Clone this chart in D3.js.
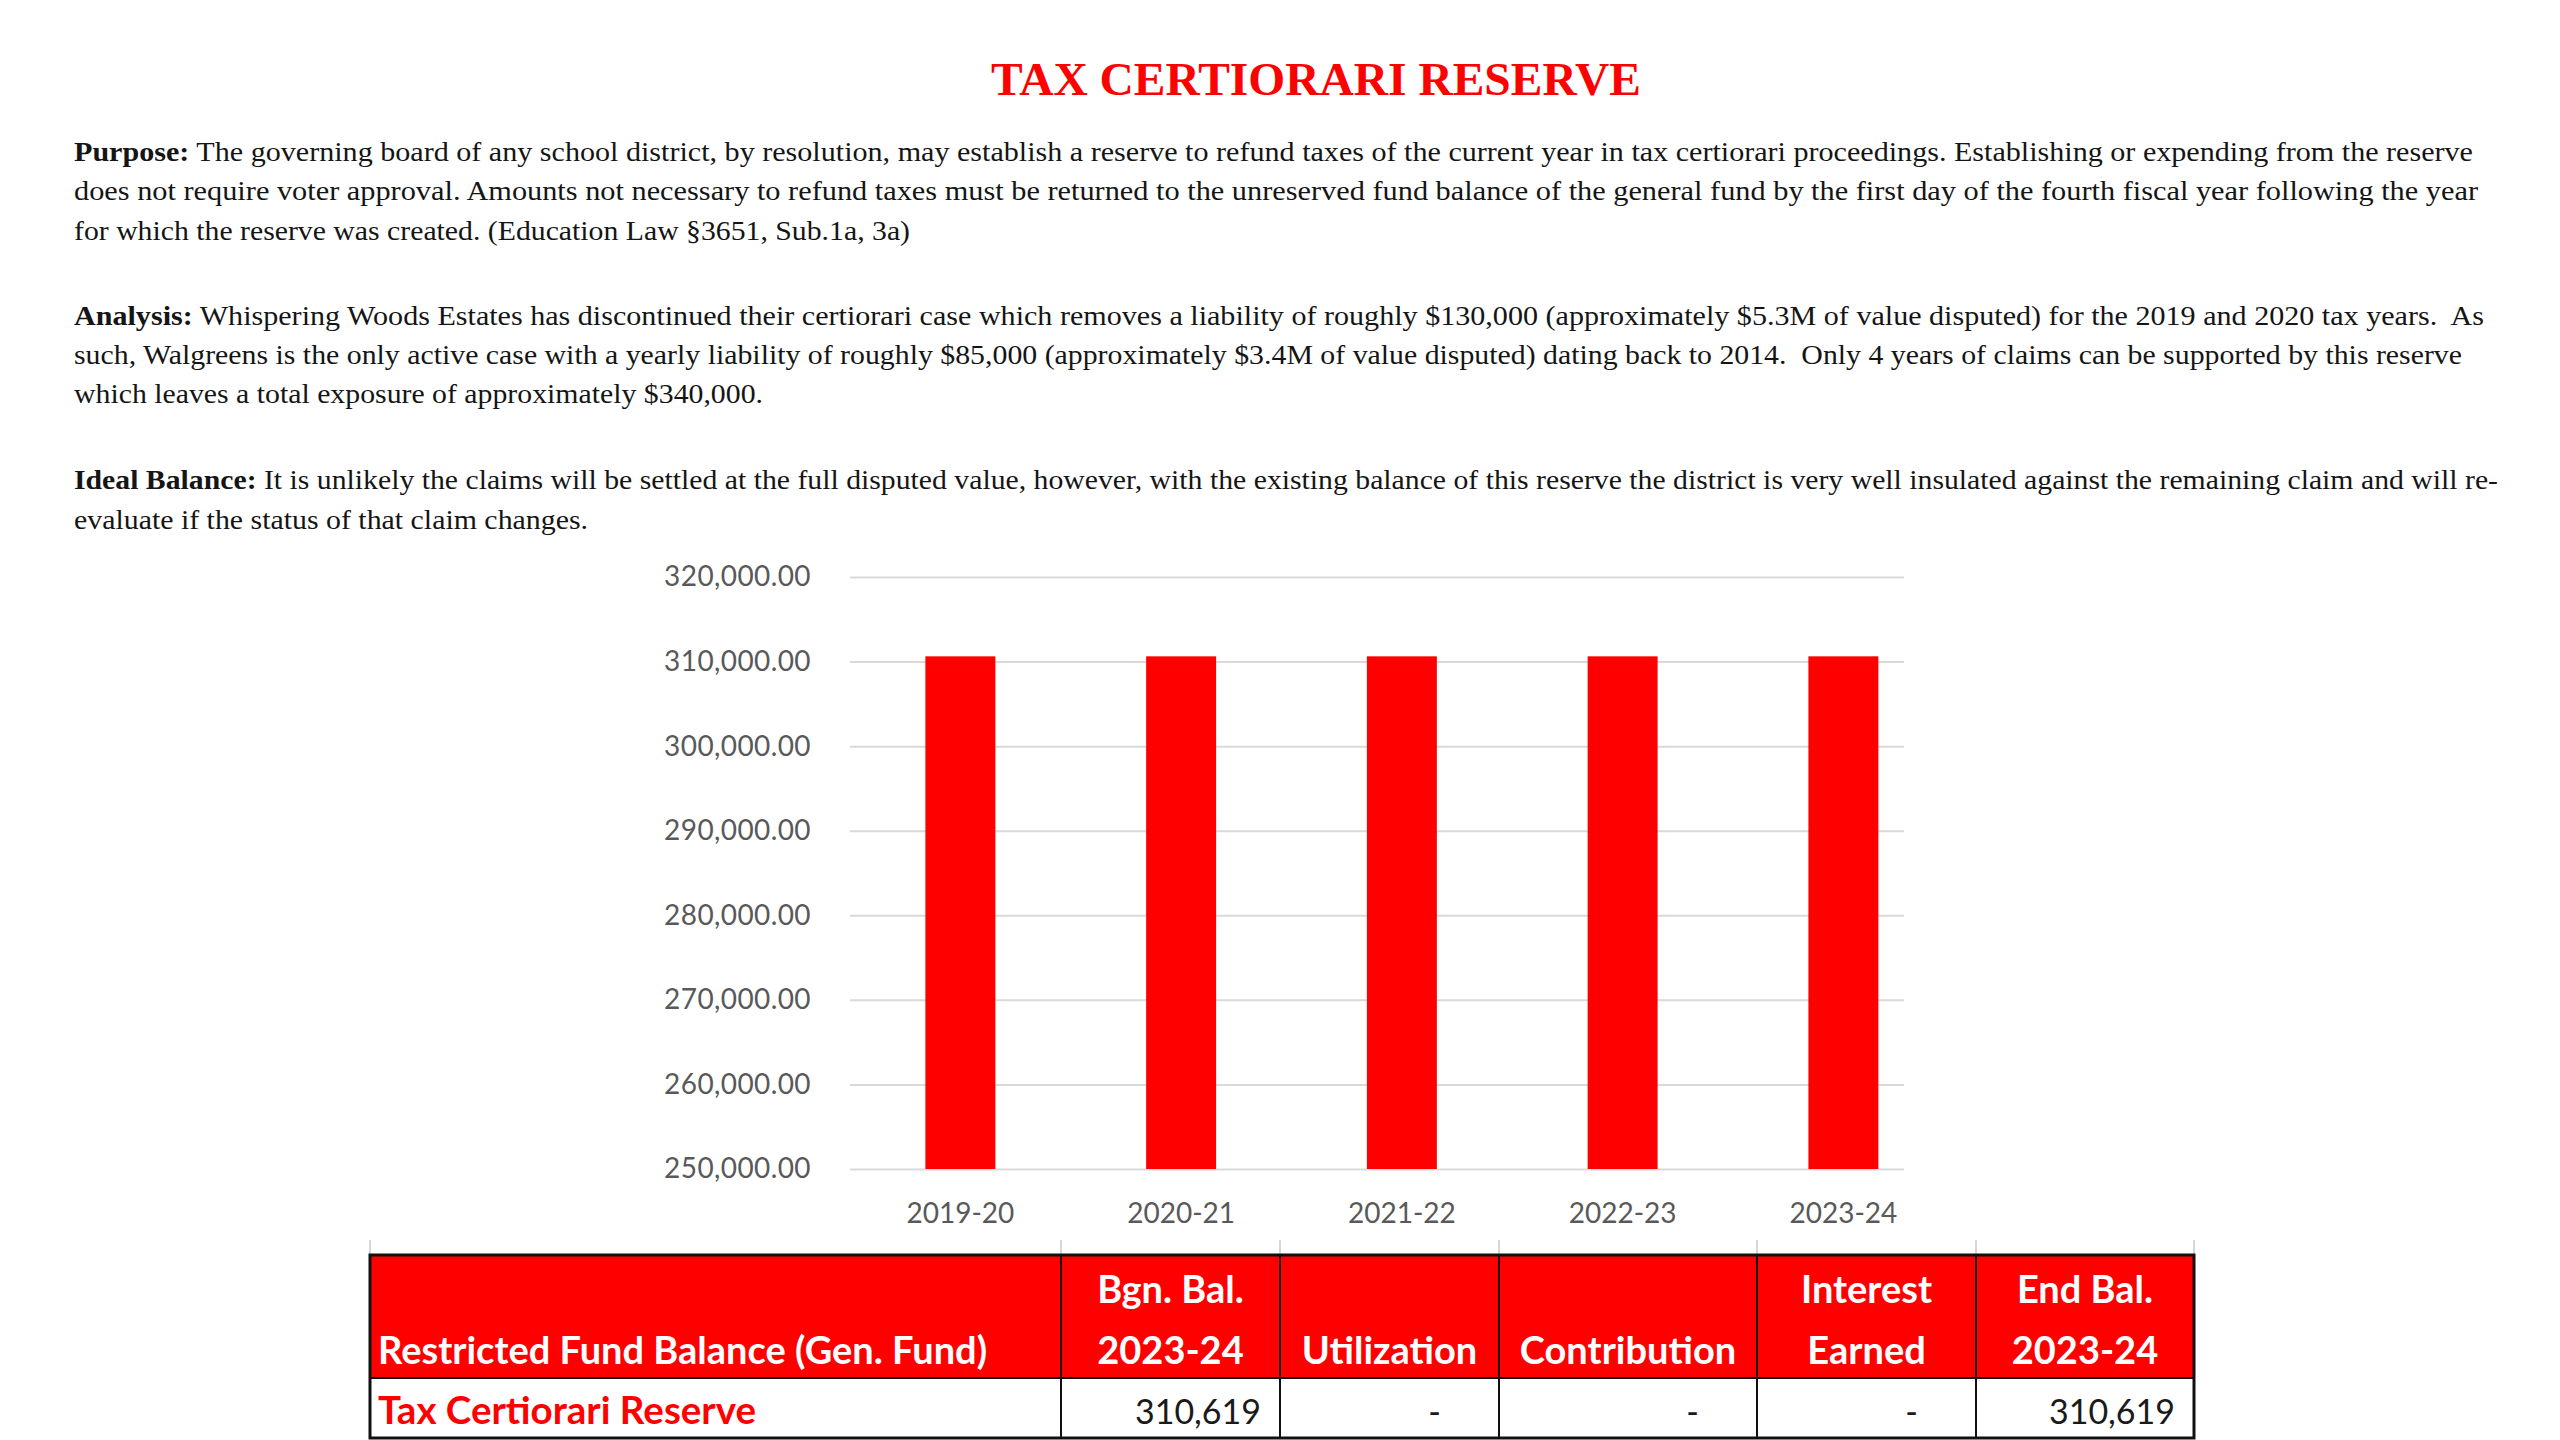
<!DOCTYPE html>
<html><head><meta charset="utf-8">
<script src="https://cdn.jsdelivr.net/npm/d3@7"></script>
<style>
html,body{margin:0;padding:0;background:#fff;}
svg{display:block;}
</style></head>
<body>
<svg id="c" width="2560" height="1440"></svg>
<script>
// ---------- DATA ----------
const categories = ["2019-20", "2020-21", "2021-22", "2022-23", "2023-24"];
const balances = [310619, 310619, 310619, 310619, 310619];
const yTicks = [250000, 260000, 270000, 280000, 290000, 300000, 310000, 320000];

const titleText = "TAX CERTIORARI RESERVE";
const paraLeads = ["Purpose:", "Analysis:", "Ideal Balance:"];
const paraLines = [
  [" The governing board of any school district, by resolution, may establish a reserve to refund taxes of the current year in tax certiorari proceedings. Establishing or expending from the reserve",
   "does not require voter approval. Amounts not necessary to refund taxes must be returned to the unreserved fund balance of the general fund by the first day of the fourth fiscal year following the year",
   "for which the reserve was created. (Education Law §3651, Sub.1a, 3a)"],
  [" Whispering Woods Estates has discontinued their certiorari case which removes a liability of roughly $130,000 (approximately $5.3M of value disputed) for the 2019 and 2020 tax years.  As",
   "such, Walgreens is the only active case with a yearly liability of roughly $85,000 (approximately $3.4M of value disputed) dating back to 2014.  Only 4 years of claims can be supported by this reserve",
   "which leaves a total exposure of approximately $340,000."],
  [" It is unlikely the claims will be settled at the full disputed value, however, with the existing balance of this reserve the district is very well insulated against the remaining claim and will re-",
   "evaluate if the status of that claim changes."]
];

const tableHeaders = [["Restricted Fund Balance (Gen. Fund)"], ["Bgn. Bal.", "2023-24"], ["Utilization"], ["Contribution"], ["Interest", "Earned"], ["End Bal.", "2023-24"]];
const tableRowLabel = "Tax Certiorari Reserve";
const tableValues = [310619, 0, 0, 0, 310619];

// ---------- LAYOUT ----------
const RED = "#ff0000";
const svg = d3.select("#c");

// Title
svg.append("text")
  .attr("x", 1316).attr("y", 95)
  .attr("text-anchor", "middle")
  .attr("font-family", "'Liberation Serif', 'Times New Roman', serif")
  .attr("font-weight", "bold").attr("font-size", 46)
  .attr("fill", RED)
  .attr("textLength", 650).attr("lengthAdjust", "spacingAndGlyphs")
  .text(titleText);

// Paragraphs
const paraLayout = [
  {baselines: [161, 200, 240], ends: [2473, 2478, 910]},
  {baselines: [325, 364, 403], ends: [2484, 2462, 763]},
  {baselines: [489, 529], ends: [2498, 588]}
];
const textX = 74;
paraLines.forEach((lines, pi) => {
  lines.forEach((ln, li) => {
    const t = svg.append("text")
      .attr("x", textX).attr("y", paraLayout[pi].baselines[li])
      .attr("font-family", "'Liberation Serif', 'Times New Roman', serif")
      .attr("font-size", 28).attr("fill", "#151515")
      .style("white-space", "pre")
      .attr("textLength", paraLayout[pi].ends[li] - textX)
      .attr("lengthAdjust", "spacingAndGlyphs");
    if (li === 0) t.append("tspan").attr("font-weight", "bold").text(paraLeads[pi]);
    t.append("tspan").text(ln);
  });
});

// Chart
const plotLeft = 850, plotRight = 1904, step = 220.75;
const x = d3.scaleBand().domain(categories)
  .range([plotLeft, plotLeft + categories.length * step])
  .paddingInner(0.683).paddingOuter(0.3415);
const y = d3.scaleLinear().domain([250000, 320000]).range([1169, 577]);

const gy = svg.append("g").attr("transform", `translate(${plotLeft},0)`)
  .call(d3.axisLeft(y).tickValues(yTicks).tickFormat(d3.format(",.2f"))
    .tickSize(-(plotRight - plotLeft)).tickPadding(39));
gy.select(".domain").remove();
gy.selectAll(".tick line").attr("stroke", "#d9d9d9").attr("stroke-width", 2);
gy.selectAll(".tick text").attr("fill", "#595959")
  .attr("font-family", "Lato, 'Open Sans', sans-serif").attr("font-size", 28)
  .attr("letter-spacing", 0.4);

svg.append("g").selectAll("rect").data(balances).join("rect")
  .attr("x", (d, i) => x(categories[i]))
  .attr("width", x.bandwidth())
  .attr("y", d => y(d))
  .attr("height", d => y(250000) - y(d))
  .attr("fill", RED);

const gx = svg.append("g").attr("transform", `translate(0,${y(250000)})`)
  .call(d3.axisBottom(x).tickSize(0).tickPadding(34));
gx.select(".domain").remove();
gx.selectAll(".tick text").attr("fill", "#595959")
  .attr("font-family", "Lato, 'Open Sans', sans-serif").attr("font-size", 28);

// Table
const colEdges = [370, 1061, 1280, 1499, 1757, 1976, 2194];
const tTop = 1255, tHead = 1378, tBot = 1438;
const tg = svg.append("g");
// faint sheet gridline stubs
tg.selectAll("line.stub").data(colEdges).join("line").attr("class", "stub")
  .attr("x1", d => d).attr("x2", d => d).attr("y1", 1240).attr("y2", tTop)
  .attr("stroke", "#d6d6d6").attr("stroke-width", 2);
tg.append("rect").attr("x", colEdges[0]).attr("y", tTop)
  .attr("width", colEdges[6] - colEdges[0]).attr("height", tHead - tTop).attr("fill", RED);
tg.append("rect").attr("x", colEdges[0]).attr("y", tTop)
  .attr("width", colEdges[6] - colEdges[0]).attr("height", tBot - tTop)
  .attr("fill", "none").attr("stroke", "#111").attr("stroke-width", 3);
tg.append("line").attr("x1", colEdges[0]).attr("x2", colEdges[6]).attr("y1", tHead).attr("y2", tHead)
  .attr("stroke", "#111").attr("stroke-width", 2);
tg.selectAll("line.div").data(colEdges.slice(1, -1)).join("line").attr("class", "div")
  .attr("x1", d => d).attr("x2", d => d).attr("y1", tTop).attr("y2", tBot)
  .attr("stroke", "#111").attr("stroke-width", 2);

const headBase = 1364, headLead = 61;
tableHeaders.forEach((lines, ci) => {
  lines.forEach((ln, li) => {
    const by = headBase - (lines.length - 1 - li) * headLead;
    tg.append("text")
      .attr("x", ci === 0 ? colEdges[0] + 8 : (colEdges[ci] + colEdges[ci + 1]) / 2)
      .attr("y", by)
      .attr("text-anchor", ci === 0 ? "start" : "middle")
      .attr("font-family", "Lato, 'Open Sans', sans-serif").attr("font-weight", "bold")
      .attr("font-size", 38).attr("fill", "#fff")
      .text(ln);
  });
});
const rowBase = 1424;
tg.append("text").attr("x", colEdges[0] + 8).attr("y", rowBase)
  .attr("font-family", "Lato, 'Open Sans', sans-serif").attr("font-weight", "bold")
  .attr("font-size", 38.5).attr("fill", RED).text(tableRowLabel);
const fmt = d3.format(",");
tableValues.forEach((v, i) => {
  const right = colEdges[i + 2];
  tg.append("text")
    .attr("x", v === 0 ? right - 58 : right - 19).attr("y", rowBase)
    .attr("text-anchor", "end")
    .attr("font-family", "Lato, 'Open Sans', sans-serif")
    .attr("font-size", 34).attr("fill", "#1a1a1a")
    .text(v === 0 ? "-" : fmt(v));
});
</script>
</body></html>
